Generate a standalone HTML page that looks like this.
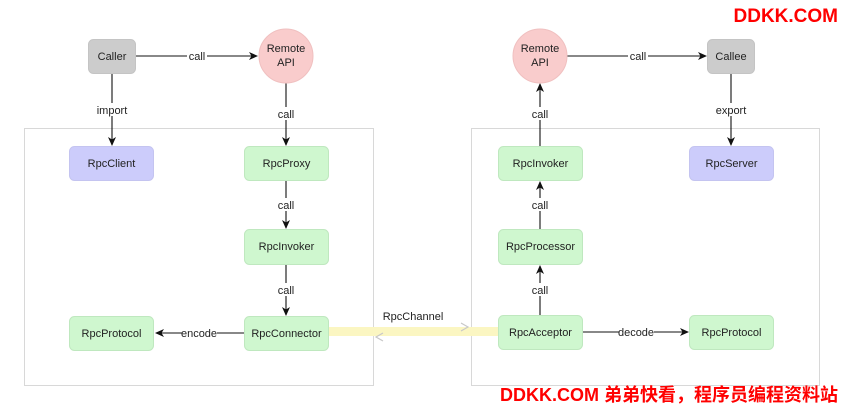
<!DOCTYPE html>
<html><head><meta charset="utf-8"><style>
html,body{margin:0;padding:0;background:#fff;width:841px;height:404px;overflow:hidden}
svg{display:block}
text{font-family:"Liberation Sans",Arial,sans-serif;font-size:11px;fill:#222}
</style></head><body>
<svg width="841" height="404" viewBox="0 0 841 404" xmlns="http://www.w3.org/2000/svg">
<defs>
<marker id="a" markerWidth="10" markerHeight="10" refX="8" refY="5" orient="auto" markerUnits="userSpaceOnUse"><path d="M0,1 L9,5 L0,9 L2.5,5 Z" fill="#111"/></marker>
</defs>
<rect x="0" y="0" width="841" height="404" fill="#fff"/>
<!-- containers -->
<rect x="24.5" y="128.5" width="349" height="257" fill="none" stroke="#d8d8d8" stroke-width="1"/>
<rect x="471.5" y="128.5" width="348" height="257" fill="none" stroke="#d8d8d8" stroke-width="1"/>

<!-- channel -->
<rect x="329" y="327" width="170" height="9" fill="#fbf6c2"/>
<path d="M461,323 L468,327 L461,331" fill="none" stroke="#c8c8c8" stroke-width="1.2"/>
<path d="M383,333 L376,337 L383,341" fill="none" stroke="#c8c8c8" stroke-width="1.2"/>
<text x="413" y="320" text-anchor="middle">RpcChannel</text>

<!-- edges -->
<g stroke="#111" stroke-width="1.1" fill="none">
<line x1="136" y1="56" x2="257" y2="56" marker-end="url(#a)"/>
<line x1="112" y1="74" x2="112" y2="145" marker-end="url(#a)"/>
<line x1="286" y1="83" x2="286" y2="145" marker-end="url(#a)"/>
<line x1="286" y1="181" x2="286" y2="228" marker-end="url(#a)"/>
<line x1="286" y1="265" x2="286" y2="315" marker-end="url(#a)"/>
<line x1="244" y1="333" x2="156" y2="333" marker-end="url(#a)"/>
<line x1="567" y1="56" x2="706" y2="56" marker-end="url(#a)"/>
<line x1="731" y1="74" x2="731" y2="145" marker-end="url(#a)"/>
<line x1="540" y1="146" x2="540" y2="84" marker-end="url(#a)"/>
<line x1="540" y1="229" x2="540" y2="182" marker-end="url(#a)"/>
<line x1="540" y1="315" x2="540" y2="266" marker-end="url(#a)"/>
<line x1="583" y1="332" x2="688" y2="332" marker-end="url(#a)"/>
</g>
<!-- edge labels with white bg -->
<g>
<rect x="187" y="49" width="20" height="13" fill="#fff"/><text x="197" y="60" text-anchor="middle">call</text>
<rect x="97" y="103" width="30" height="13" fill="#fff"/><text x="112" y="114" text-anchor="middle">import</text>
<rect x="276" y="107" width="20" height="13" fill="#fff"/><text x="286" y="118" text-anchor="middle">call</text>
<rect x="276" y="198" width="20" height="13" fill="#fff"/><text x="286" y="209" text-anchor="middle">call</text>
<rect x="276" y="283" width="20" height="13" fill="#fff"/><text x="286" y="294" text-anchor="middle">call</text>
<rect x="182" y="326" width="35" height="13" fill="#fff"/><text x="199" y="337" text-anchor="middle">encode</text>
<rect x="628" y="49" width="20" height="13" fill="#fff"/><text x="638" y="60" text-anchor="middle">call</text>
<rect x="716" y="103" width="31" height="13" fill="#fff"/><text x="731" y="114" text-anchor="middle">export</text>
<rect x="530" y="107" width="20" height="13" fill="#fff"/><text x="540" y="118" text-anchor="middle">call</text>
<rect x="530" y="198" width="20" height="13" fill="#fff"/><text x="540" y="209" text-anchor="middle">call</text>
<rect x="530" y="283" width="20" height="13" fill="#fff"/><text x="540" y="294" text-anchor="middle">call</text>
<rect x="619" y="325" width="35" height="13" fill="#fff"/><text x="636" y="336" text-anchor="middle">decode</text>
</g>

<!-- nodes -->
<rect x="88.5" y="39.5" width="47" height="34" rx="5" fill="#cccccc" stroke="#c4c4c4"/>
<text x="112" y="60" text-anchor="middle">Caller</text>
<circle cx="286" cy="56" r="27" fill="#f9cccc" stroke="#f0c0c0"/>
<text x="286" y="52" text-anchor="middle">Remote</text>
<text x="286" y="66" text-anchor="middle">API</text>

<rect x="69.5" y="146.5" width="84" height="34" rx="5" fill="#ccccfb" stroke="#c4c4f0"/>
<text x="111.5" y="167" text-anchor="middle">RpcClient</text>
<rect x="244.5" y="146.5" width="84" height="34" rx="5" fill="#cff7cf" stroke="#bfe8bf"/>
<text x="286.5" y="167" text-anchor="middle">RpcProxy</text>
<rect x="244.5" y="229.5" width="84" height="35" rx="5" fill="#cff7cf" stroke="#bfe8bf"/>
<text x="286.5" y="250" text-anchor="middle">RpcInvoker</text>
<rect x="244.5" y="316.5" width="84" height="34" rx="5" fill="#cff7cf" stroke="#bfe8bf"/>
<text x="286.5" y="337" text-anchor="middle">RpcConnector</text>
<rect x="69.5" y="316.5" width="84" height="34" rx="5" fill="#cff7cf" stroke="#bfe8bf"/>
<text x="111.5" y="337" text-anchor="middle">RpcProtocol</text>

<circle cx="540" cy="56" r="27" fill="#f9cccc" stroke="#f0c0c0"/>
<text x="540" y="52" text-anchor="middle">Remote</text>
<text x="540" y="66" text-anchor="middle">API</text>
<rect x="707.5" y="39.5" width="47" height="34" rx="5" fill="#cccccc" stroke="#c4c4c4"/>
<text x="731" y="60" text-anchor="middle">Callee</text>

<rect x="498.5" y="146.5" width="84" height="34" rx="5" fill="#cff7cf" stroke="#bfe8bf"/>
<text x="540.5" y="167" text-anchor="middle">RpcInvoker</text>
<rect x="689.5" y="146.5" width="84" height="34" rx="5" fill="#ccccfb" stroke="#c4c4f0"/>
<text x="731.5" y="167" text-anchor="middle">RpcServer</text>
<rect x="498.5" y="229.5" width="84" height="35" rx="5" fill="#cff7cf" stroke="#bfe8bf"/>
<text x="540.5" y="250" text-anchor="middle">RpcProcessor</text>
<rect x="498.5" y="315.5" width="84" height="34" rx="5" fill="#cff7cf" stroke="#bfe8bf"/>
<text x="540.5" y="336" text-anchor="middle">RpcAcceptor</text>
<rect x="689.5" y="315.5" width="84" height="34" rx="5" fill="#cff7cf" stroke="#bfe8bf"/>
<text x="731.5" y="336" text-anchor="middle">RpcProtocol</text>

<!-- watermarks -->
<text x="838" y="22" text-anchor="end" style="font-size:19px;font-weight:bold;fill:#ff0000">DDKK.COM</text>
<text x="838" y="401" text-anchor="end" style="font-family:'Liberation Sans','Noto Sans CJK SC',sans-serif;font-size:18px;font-weight:bold;fill:#ff0000">DDKK.COM 弟弟快看，程序员编程资料站</text>
</svg>
</body></html>
